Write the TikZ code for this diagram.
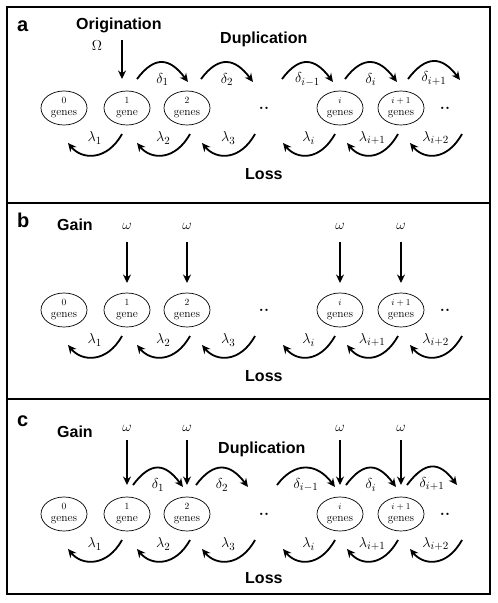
\documentclass[tikz,border=0pt]{standalone}
\usepackage{fontspec}
\newfontfamily\titlefont{Liberation Sans}
\usetikzlibrary{arrows.meta,shapes.geometric}
\newcommand\nmsz[1]{{\fontsize{9.5}{12}\selectfont #1}}
% delta arc: #1 from node, #2 shift x, #3 to node, #4 shift x, #5 label, #6 to shift y
\newcommand\duparc[6]{\draw[arc] ([shift={(#2,-29)}]#1.center) .. controls +(18,-24) and +(-18,-24) .. ([shift={(#4,#6)}]#3.center) node[rate,pos=0.5,yshift=-17pt] {$#5$};}
% lambda arc
\newcommand\lossarc[5]{\draw[arc] ([shift={(#2,26)}]#1.center) .. controls +(-15,27) and +(14,17) .. ([shift={(#4,35)}]#3.center) node[rate,pos=0.5,yshift=17pt] {$#5$};}
\begin{document}
\begin{tikzpicture}[x=1pt,y=-1pt,
  panel/.style={line width=2.5pt},
  st/.style={draw, ellipse, line width=0.7pt, minimum width=46pt, minimum height=34pt, inner sep=0pt, align=center, font=\fontsize{11.5}{12}\selectfont},
  arc/.style={line width=1.8pt, -{Stealth[length=8.5pt,width=8pt]}},
  ttl/.style={font=\titlefont\bfseries\fontsize{16}{16}\selectfont, anchor=base west, inner sep=0pt},
  plab/.style={font=\titlefont\bfseries\fontsize{20}{20}\selectfont, anchor=base west, inner sep=0pt},
  rate/.style={font=\fontsize{15}{17}\selectfont, inner sep=0pt},
  gain/.style={font=\fontsize{15}{17}\selectfont, inner sep=0pt},
  dts/.style={font=\bfseries\fontsize{16}{16}\selectfont, inner sep=0pt}
]
\useasboundingbox (0,0) rectangle (498,603);
% frames
\draw[panel] (7,7) rectangle (490,594);
\draw[panel] (7,203) -- (490,203);
\draw[panel] (7,399) -- (490,399);

% ================= panel a =================
\node[plab] (la) at (17,31) {a};
\node[ttl] (orig) at (76,29) {Origination};
\node[ttl] (dupa) at (220,43) {Duplication};
\node[ttl] (lossa) at (245,179) {Loss};
\node[st] (a0) at (64,108) {\nmsz{0}\\genes};
\node[st] (a1) at (127,108) {\nmsz{1}\\gene};
\node[st] (a2) at (187,108) {\nmsz{2}\\genes};
\node[dts] (aD1) at (264,108) {..};
\node[st] (a3) at (340,108) {\nmsz{$i$}\\genes};
\node[st] (a4) at (401,108) {\nmsz{$i+1$}\\genes};
\node[dts] (aD2) at (445,108) {..};
\node[gain] (om) at (97,46) {$\Omega$};
\coordinate (oms) at (122,40);
\draw[arc] (oms) -- ([shift={(-5,-29)}]a1.center);
\duparc{a1}{10}{a2}{1}{\delta_1}{-26}
\duparc{a2}{14}{aD1}{-11}{\delta_2}{-26}
\duparc{aD1}{18}{a3}{-7}{\delta_{i-1}}{-26}
\duparc{a3}{5}{a4}{-4}{\delta_i}{-26}
\duparc{a4}{7}{aD2}{15}{\delta_{i+1}}{-28}
\lossarc{a1}{-5}{a0}{4}{\lambda_1}
\lossarc{a2}{3}{a1}{10}{\lambda_2}
\lossarc{aD1}{-9}{a2}{15}{\lambda_3}
\lossarc{a3}{-5}{aD1}{19}{\lambda_i}
\lossarc{a4}{-3}{a3}{7}{\lambda_{i+1}}
\lossarc{aD2}{17}{a4}{9}{\lambda_{i+2}}

% ================= panel b =================
\node[plab] (lb) at (17,227) {b};
\node[ttl] (gainb) at (57,230) {Gain};
\node[ttl] (lossb) at (245,381) {Loss};
\node[st] (b0) at (64,310) {\nmsz{0}\\genes};
\node[st] (b1) at (127,310) {\nmsz{1}\\gene};
\node[st] (b2) at (187,310) {\nmsz{2}\\genes};
\node[dts] (bD1) at (264,310) {..};
\node[st] (b3) at (340,310) {\nmsz{$i$}\\genes};
\node[st] (b4) at (401,310) {\nmsz{$i+1$}\\genes};
\node[dts] (bD2) at (445,310) {..};
\foreach \n/\x in {1/127,2/187,3/340,4/401}{
  \node[gain] (bw\n) at (\x,226) {$\omega$};
  \coordinate (bws\n) at (\x,242);
  \draw[arc] (bws\n) -- ([yshift=27pt]b\n.center);
}
\lossarc{b1}{-5}{b0}{4}{\lambda_1}
\lossarc{b2}{3}{b1}{10}{\lambda_2}
\lossarc{bD1}{-9}{b2}{15}{\lambda_3}
\lossarc{b3}{-5}{bD1}{19}{\lambda_i}
\lossarc{b4}{-3}{b3}{7}{\lambda_{i+1}}
\lossarc{bD2}{17}{b4}{9}{\lambda_{i+2}}

% ================= panel c =================
\node[plab] (lc) at (17,426) {c};
\node[ttl] (gainc) at (57,437) {Gain};
\node[ttl] (dupc) at (218,453) {Duplication};
\node[ttl] (lossc) at (245,583) {Loss};
\node[st] (c0) at (64,514) {\nmsz{0}\\genes};
\node[st] (c1) at (127,514) {\nmsz{1}\\gene};
\node[st] (c2) at (187,514) {\nmsz{2}\\genes};
\node[dts] (cD1) at (264,514) {..};
\node[st] (c3) at (340,514) {\nmsz{$i$}\\genes};
\node[st] (c4) at (401,514) {\nmsz{$i+1$}\\genes};
\node[dts] (cD2) at (445,514) {..};
\foreach \n/\x in {1/127,2/187,3/340,4/401}{
  \node[gain] (cw\n) at (\x,428) {$\omega$};
  \coordinate (cws\n) at (\x,440);
  \draw[arc] (cws\n) -- ([yshift=29pt]c\n.center);
}
\duparc{c1}{6}{c2}{-4}{\delta_1}{-27}
\duparc{c2}{9}{cD1}{-16}{\delta_2}{-27}
\duparc{cD1}{13}{c3}{-5}{\delta_{i-1}}{-27}
\duparc{c3}{6}{c4}{-5}{\delta_i}{-27}
\duparc{c4}{6}{cD2}{12}{\delta_{i+1}}{-29}
\lossarc{c1}{-5}{c0}{4}{\lambda_1}
\lossarc{c2}{3}{c1}{10}{\lambda_2}
\lossarc{cD1}{-9}{c2}{15}{\lambda_3}
\lossarc{c3}{-5}{cD1}{19}{\lambda_i}
\lossarc{c4}{-3}{c3}{7}{\lambda_{i+1}}
\lossarc{cD2}{17}{c4}{9}{\lambda_{i+2}}
\end{tikzpicture}
\end{document}
